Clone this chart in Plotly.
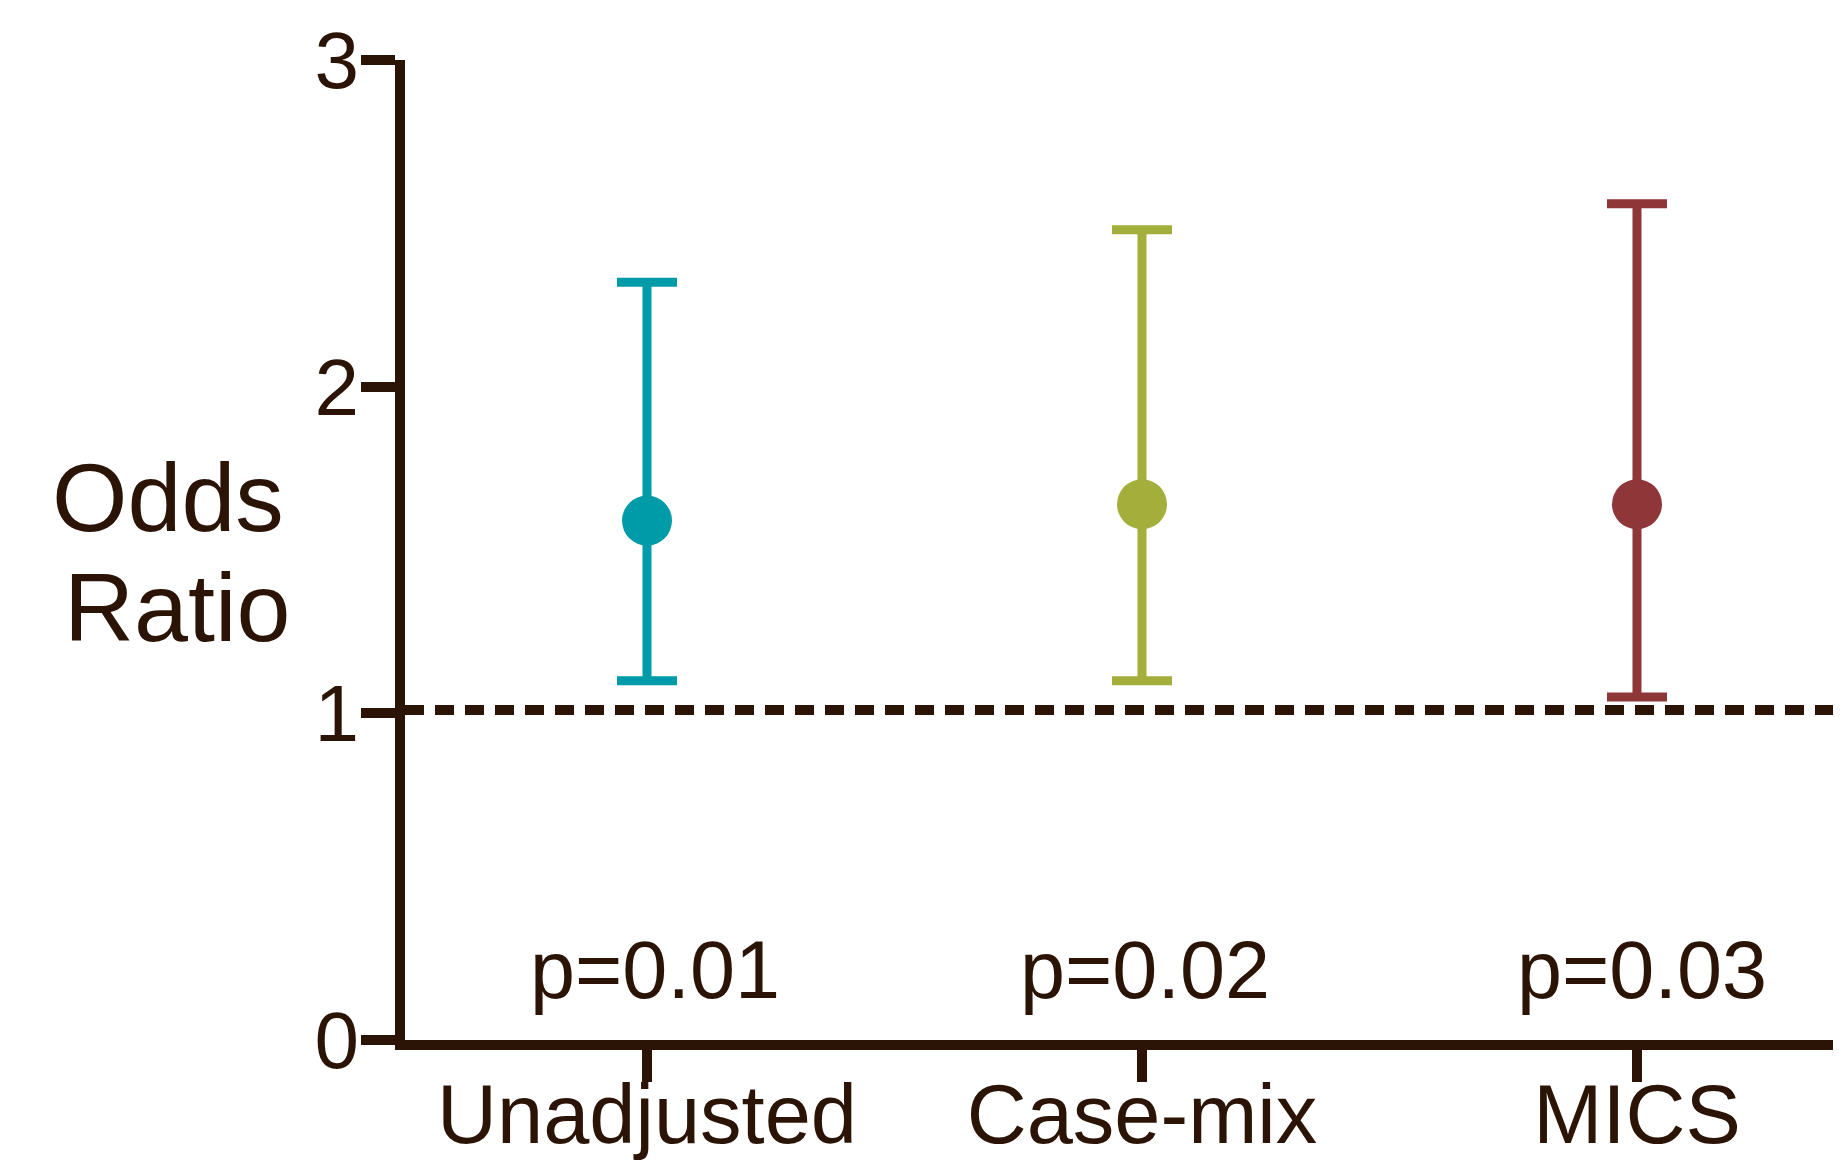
import plotly.graph_objects as go

categories = ["Unadjusted", "Case-mix", "MICS"]
odds_ratio = [1.59, 1.64, 1.64]
ci_upper = [2.32, 2.48, 2.56]
ci_lower = [1.10, 1.10, 1.05]
p_values = ["p=0.01", "p=0.02", "p=0.03"]
colors = ["#009BA8", "#A3AF3A", "#8F3639"]
y_ticks = [0, 1, 2, 3]

INK = "#2B1406"
FONT = "Liberation Sans, Arial, Helvetica, sans-serif"
xpos = [1, 2, 3]
XR = [0.5111, 3.4283]
p_shift = [8, 3, 5]

fig = go.Figure()
for i, cat in enumerate(categories):
    fig.add_trace(go.Scatter(
        x=[xpos[i]], y=[odds_ratio[i]], mode="markers",
        marker=dict(size=50, color=colors[i]),
        error_y=dict(type="data", symmetric=False,
                     array=[ci_upper[i] - odds_ratio[i]],
                     arrayminus=[odds_ratio[i] - ci_lower[i]],
                     color=colors[i], thickness=9, width=30),
        showlegend=False, cliponaxis=False, name=cat,
    ))

fig.add_shape(type="line", xref="x", yref="y", x0=XR[0], x1=XR[1], y0=1.01, y1=1.01,
              line=dict(color=INK, width=10, dash="19px,11px"), layer="below")

for i, p in enumerate(p_values):
    fig.add_annotation(x=xpos[i], y=0.214, text=p, showarrow=False,
                       font=dict(size=81, color=INK, family=FONT),
                       xanchor="center", yanchor="middle", xshift=p_shift[i])

fig.add_annotation(xref="paper", yref="paper", x=-0.0825, y=0.4957, text="Odds",
                   showarrow=False, xanchor="right", yanchor="bottom",
                   font=dict(size=97, color=INK, family=FONT))
fig.add_annotation(xref="paper", yref="paper", x=-0.0783, y=0.499, text="Ratio",
                   showarrow=False, xanchor="right", yanchor="top",
                   font=dict(size=97, color=INK, family=FONT))

fig.update_layout(
    width=1841, height=1162,
    margin=dict(l=397, r=0, t=52, b=130, pad=0),
    plot_bgcolor="white", paper_bgcolor="white",
    font=dict(family=FONT, color=INK, size=80),
    xaxis=dict(range=XR, tickvals=xpos, ticktext=categories,
               showgrid=False, zeroline=False, showline=True, linecolor=INK,
               linewidth=10, ticks="outside", ticklen=32, tickwidth=10,
               tickcolor=INK, automargin=False, ticklabelstandoff=-39,
               tickfont=dict(size=83, color=INK, family=FONT)),
    yaxis=dict(range=[0, 3], tickvals=y_ticks, showgrid=False, zeroline=False,
               showline=True, linecolor=INK, linewidth=10, ticks="outside",
               ticklen=34, tickwidth=10, tickcolor=INK, automargin=False,
               ticklabelstandoff=-14,
               tickfont=dict(size=80, color=INK, family=FONT)),
)

fig.write_html("out.html")
